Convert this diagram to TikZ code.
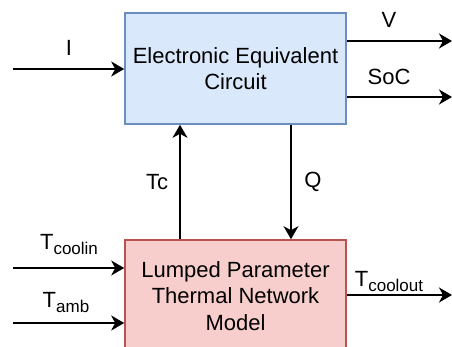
\documentclass[tikz,border=0pt]{standalone}
\usepackage{fontspec}
\setmainfont{Liberation Sans}
\usetikzlibrary{arrows.meta}
\definecolor{bluefill}{HTML}{DAE8FC}
\definecolor{blueline}{HTML}{6C8EBF}
\definecolor{redfill}{HTML}{F8CECC}
\definecolor{redline}{HTML}{B85450}
\begin{document}
\begin{tikzpicture}[x=1pt,y=-1pt,
  block/.style={draw, line width=1.6pt, minimum width=221pt, align=center, inner sep=0pt,
    font=\fontsize{22}{26.5}\selectfont},
  conn/.style={line width=1.7pt, -{Stealth[length=13pt,width=15pt,inset=4pt]}},
  lbl/.style={font=\fontsize{22}{25}\selectfont, inner sep=0pt}]
\useasboundingbox (0,0) rectangle (452,347);
\begin{scope}
\clip (0,0) rectangle (452,347);
\node[block, fill=bluefill, draw=blueline, minimum height=111pt] (eec) at (235.5,68.5) {Electronic Equivalent\\Circuit};
\node[block, fill=redfill, draw=redline, minimum height=112pt] (lpt) at (235.5,296) {Lumped Parameter\\Thermal Network\\Model};
\end{scope}
\coordinate (iin) at (13,69);
\coordinate (vout) at (452,41);
\coordinate (socout) at (452,97);
\coordinate (tcx) at (180,0);
\coordinate (qx) at (291,0);
\coordinate (tcin) at (13,268);
\coordinate (tamb) at (13,323);
\coordinate (tcout) at (452,295);
\draw[conn] (iin) -- (eec.west |- iin);
\draw[conn] (eec.east |- vout) -- (vout);
\draw[conn] (eec.east |- socout) -- (socout);
\draw[conn] (lpt.north -| tcx) -- (eec.south -| tcx);
\draw[conn] (eec.south -| qx) -- (lpt.north -| qx);
\draw[conn] (tcin) -- (lpt.west |- tcin);
\draw[conn] (tamb) -- (lpt.west |- tamb);
\draw[conn] (lpt.east |- tcout) -- (tcout);
\node[lbl] (li) at (69,48) {I};
\node[lbl] (lv) at (389,20) {V};
\node[lbl] (lsoc) at (389,77) {SoC};
\node[lbl] (ltc) at (157,182) {Tc};
\node[lbl] (lq) at (313,182) {Q};
\node[lbl, anchor=base] (ltcin) at (69,250) {T\raisebox{-5pt}{\fontsize{17}{17}\selectfont coolin}};
\node[lbl, anchor=base] (ltamb) at (66,307) {T\raisebox{-5pt}{\fontsize{17}{17}\selectfont amb}};
\node[lbl, anchor=base] (ltcout) at (389,286) {T\raisebox{-5pt}{\fontsize{17}{17}\selectfont coolout}};
\end{tikzpicture}
\end{document}
